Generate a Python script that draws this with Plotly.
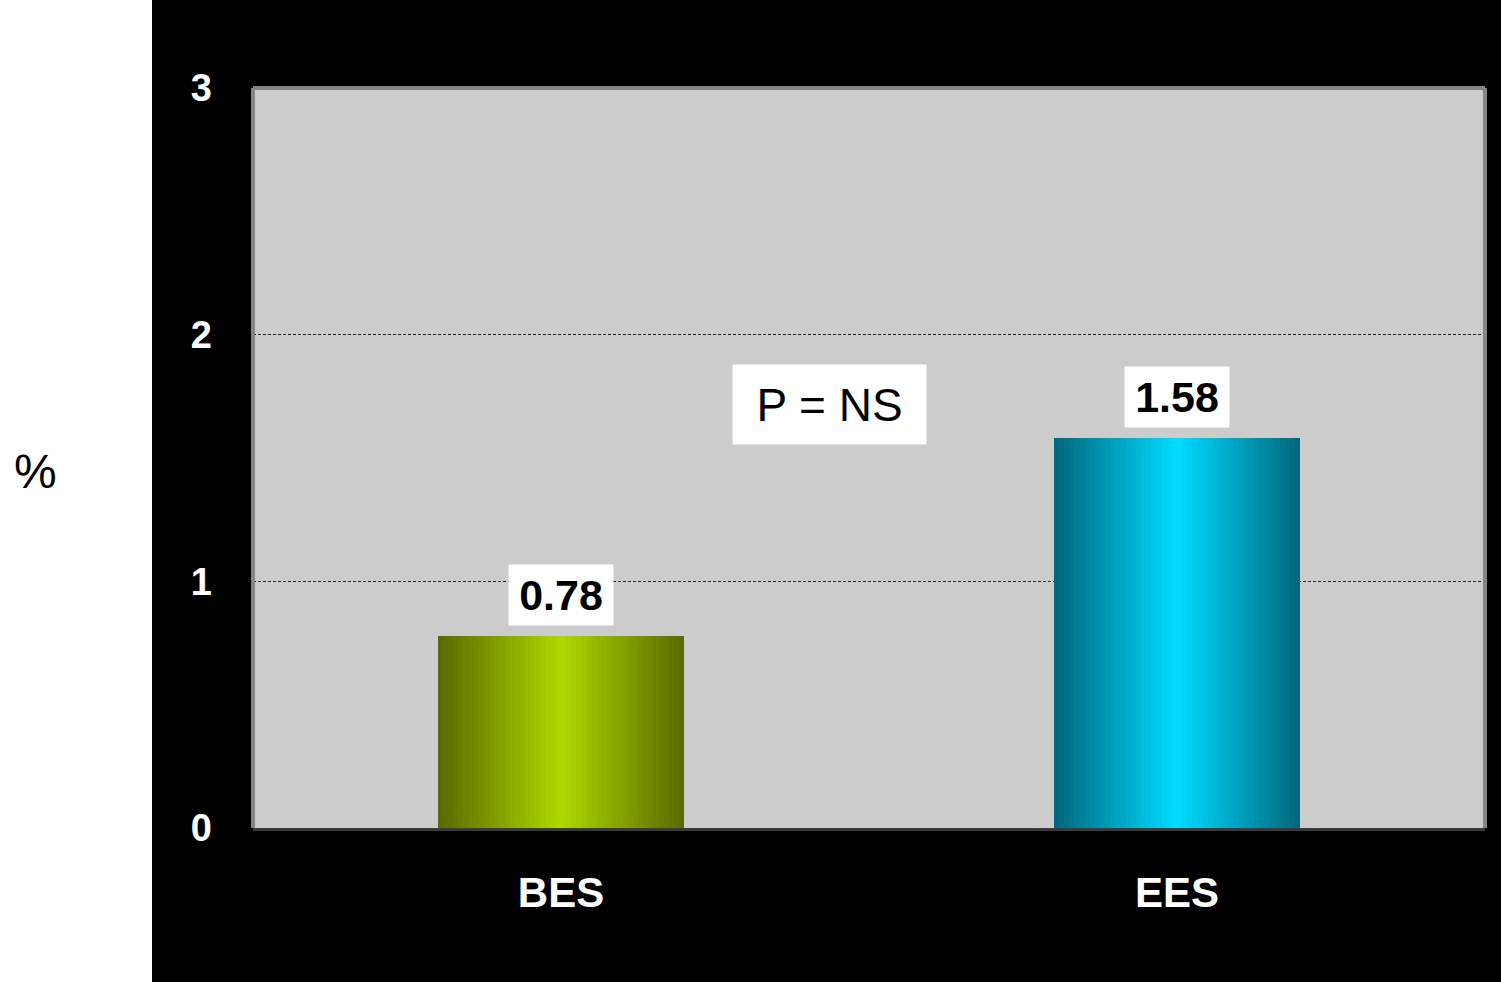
import plotly.graph_objects as go

# ---- data ----
categories = ["BES", "EES"]
values = [0.78, 1.58]
value_labels = ["0.78", "1.58"]
y_ticks = [0, 1, 2, 3]
y_tick_labels = ["0", "1", "2", "3"]
p_text = "P = NS"
y_title = "%"

# ---- style ----
edge_colors = [(88, 108, 0), (0, 104, 126)]
center_colors = [(172, 214, 0), (0, 218, 255)]
N_LAYERS = 24
BAR_WIDTH = 0.4
FONT = "Liberation Sans, Arial, sans-serif"

W, H = 1501, 982
L, R, T, B = 253, 16, 88, 154
pw, ph = W - L - R, H - T - B


def lerp(a, b, t):
    return "rgb(%d,%d,%d)" % tuple(round(a[k] + (b[k] - a[k]) * t) for k in range(3))


fig = go.Figure()
for i in range(N_LAYERS):
    t = i / (N_LAYERS - 1)
    w = BAR_WIDTH * (1 - i / N_LAYERS)
    fig.add_trace(go.Bar(
        x=categories, y=values, width=w,
        marker=dict(color=[lerp(edge_colors[j], center_colors[j], t) for j in range(len(categories))],
                    line=dict(width=0)),
        hoverinfo="skip", showlegend=False,
    ))

# value labels
for c, v, lab in zip(categories, values, value_labels):
    fig.add_annotation(x=c, y=v, text="<b>%s</b>" % lab, showarrow=False,
                       xanchor="center", yanchor="bottom", yshift=10, bgcolor="white",
                       width=88, height=44, borderpad=8,
                       font=dict(family=FONT, size=43, color="black"))

# P = NS box
fig.add_annotation(xref="paper", yref="paper",
                   x=(829 - L) / pw, y=1 - (405 - T) / ph,
                   xanchor="center", yanchor="middle",
                   text=p_text, showarrow=False, bgcolor="white",
                   width=185, height=71, borderpad=4,
                   font=dict(family=FONT, size=46, color="black"))

# y title
fig.add_annotation(xref="paper", yref="paper",
                   x=(35 - L) / pw, y=1 - (471 - T) / ph,
                   xanchor="center", yanchor="middle",
                   text=y_title, showarrow=False,
                   font=dict(family=FONT, size=48, color="black"))

# black panel
fig.add_shape(type="rect", xref="paper", yref="paper",
              x0=(152 - L) / pw, x1=1 + R / pw, y0=-B / ph, y1=1 + T / ph,
              fillcolor="black", line=dict(width=0), layer="below")
# gray plot area
fig.add_shape(type="rect", xref="paper", yref="paper",
              x0=0, x1=1, y0=0, y1=1,
              fillcolor="#CCCCCC", line=dict(width=0), layer="below")

# plot border (left, top, right)
for (x0, y0, x1, y1) in [(0, 0, 0, 1), (0, 1, 1, 1), (1, 0, 1, 1)]:
    fig.add_shape(type="line", xref="paper", yref="paper",
                  x0=x0, y0=y0, x1=x1, y1=y1,
                  line=dict(color="#858585", width=4), layer="above")

fig.update_layout(
    width=W, height=H,
    margin=dict(l=L, r=R, t=T, b=B, pad=0),
    paper_bgcolor="white", plot_bgcolor="rgba(0,0,0,0)",
    barmode="overlay", bargap=0,
    showlegend=False,
)
fig.update_xaxes(range=[-0.5, 1.5], showgrid=False, zeroline=False,
                 showline=True, linecolor="#3a3a3a", linewidth=3,
                 ticks="", ticklabelstandoff=26,
                 tickfont=dict(family=FONT, size=42, color="white", weight="bold"))
fig.update_yaxes(range=[0, 3], tickvals=y_ticks, ticktext=y_tick_labels,
                 showgrid=True, gridcolor="#222222", gridwidth=1, griddash="3px,2px",
                 zeroline=False, showline=False, ticks="", ticklabelstandoff=40,
                 tickfont=dict(family=FONT, size=38, color="white", weight="bold"))

fig.write_html("out.html")
